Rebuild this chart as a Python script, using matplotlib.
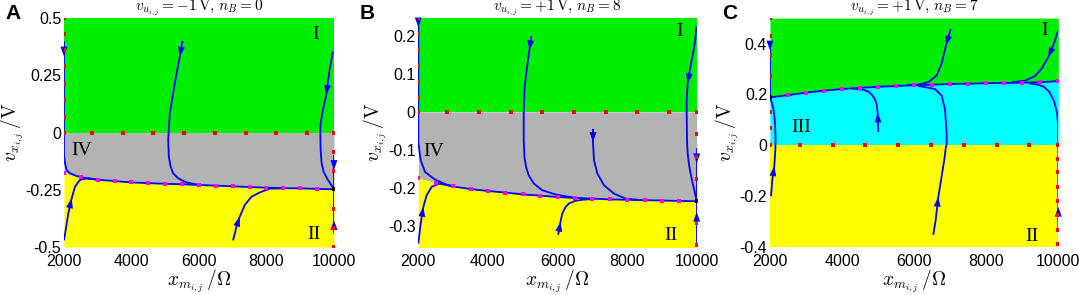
import matplotlib
matplotlib.use('Agg')
import matplotlib.pyplot as plt

plt.rcParams['mathtext.fontset'] = 'cm'
plt.rcParams['font.family'] = ['Liberation Sans', 'DejaVu Sans']
plt.rcParams['axes.unicode_minus'] = False

GREEN = '#00ee00'
GRAY = '#b3b3b3'
YELLOW = '#ffff00'
CYAN = '#00ffff'
BLUE = '#0000ff'

# ---- shared x grid of the region boundary (every 500 ohm)
bound_x = [2000, 2500, 3000, 3500, 4000, 4500, 5000, 5500, 6000,
           6500, 7000, 7500, 8000, 8500, 9000, 9500, 10000]
zero_dots_x = [2000, 2830, 3740, 4650, 5550, 6470, 7380, 8290, 9200, 10000]

# ---- panel A: v_u = -1 V, n_B = 0
a_bound_y = [-0.178, -0.196, -0.206, -0.212, -0.218, -0.221, -0.224, -0.226, -0.229,
             -0.232, -0.235, -0.238, -0.241, -0.243, -0.244, -0.246, -0.248]
a_left_dots = [0.5, 0.43, 0.36, 0.29, 0.21, 0.14, 0.07]
a_right_dots = [-0.083, -0.167, -0.333, -0.417, -0.5]
a_t1_x = [2000, 2000, 2000, 2000, 2030, 2079, 2178, 2375, 2671, 3000]
a_t1_y = [0.40, 0.36, 0.333, -0.10, -0.134, -0.164, -0.178, -0.19, -0.2, -0.206]
a_t2_x = [2000, 2128, 2227, 2326, 2473, 2671, 3000]
a_t2_y = [-0.471, -0.354, -0.288, -0.237, -0.207, -0.2, -0.206]
a_t3_x = [5512, 5432, 5285, 5186, 5137, 5088, 5107, 5157, 5235, 5383, 5630, 6000]
a_t3_y = [0.40, 0.332, 0.216, 0.128, 0.085, -0.032, -0.105, -0.148, -0.178, -0.2, -0.218, -0.229]
a_t4_x = [9970, 9871, 9773, 9674, 9605, 9596, 9605, 9635, 9694, 9793, 9921, 10000]
a_t4_y = [0.354, 0.274, 0.165, 0.099, 0.041, 0.0, -0.076, -0.134, -0.171, -0.2, -0.229, -0.248]
a_t5_x = [10000, 10000, 10000]
a_t5_y = [-0.098, -0.163, -0.248]
a_t6_x = [10000, 10000, 10000]
a_t6_y = [-0.44, -0.383, -0.248]
a_t7_x = [7011, 7110, 7208, 7356, 7553, 7800, 8096, 8491]
a_t7_y = [-0.471, -0.412, -0.368, -0.317, -0.281, -0.262, -0.245, -0.244]

# ---- panel B: v_u = +1 V, n_B = 8
b_bound_y = [-0.174, -0.186, -0.196, -0.203, -0.208, -0.212, -0.217, -0.220, -0.224,
             -0.226, -0.228, -0.230, -0.231, -0.232, -0.233, -0.234, -0.235]
b_left_dots = [0.245, 0.204, 0.162, 0.12, 0.077, 0.035]
b_right_dots = [-0.059, -0.118, -0.177, -0.293, -0.35]
b_t1_x = [2000, 2000, 2000, 2000, 2067, 2192, 2481, 2769, 3000]
b_t1_y = [0.245, 0.222, 0.0, -0.08, -0.127, -0.158, -0.178, -0.19, -0.196]
b_t2_x = [2000, 2067, 2144, 2240, 2385, 2625, 3000]
b_t2_y = [-0.346, -0.294, -0.25, -0.219, -0.197, -0.188, -0.196]
b_t3_x = [5250, 5192, 5125, 5058, 5029, 5029, 5048, 5096, 5173, 5317, 5558, 5942, 6500]
b_t3_y = [0.199, 0.162, 0.118, 0.066, 0.0, -0.074, -0.118, -0.145, -0.167, -0.188, -0.206, -0.217, -0.226]
b_t4_x = [7019, 7019, 7048, 7144, 7336, 7625, 7961, 8300]
b_t4_y = [-0.045, -0.079, -0.127, -0.162, -0.193, -0.215, -0.228, -0.231]
b_t5_x = [10000, 9932, 9817, 9740, 9711, 9711, 9721, 9740, 9788, 9865, 9932, 10000]
b_t5_y = [0.224, 0.171, 0.118, 0.075, 0.031, 0.0, -0.074, -0.11, -0.145, -0.18, -0.206, -0.235]
b_t6_x = [10000, 10000, 10000]
b_t6_y = [-0.096, -0.135, -0.235]
b_t7_x = [10000, 10000, 10000]
b_t7_y = [-0.345, -0.263, -0.235]
b_t8_x = [6019, 6086, 6134, 6230, 6327, 6500, 6712, 7000]
b_t8_y = [-0.323, -0.289, -0.268, -0.25, -0.241, -0.234, -0.231, -0.229]

# ---- panel C: v_u = +1 V, n_B = 7
c_bound_y = [0.188, 0.197, 0.207, 0.215, 0.221, 0.226, 0.230, 0.233, 0.236,
             0.238, 0.241, 0.242, 0.244, 0.245, 0.246, 0.248, 0.252]
c_left_dots = [0.5, 0.43, 0.354, 0.274, 0.13, 0.069]
c_right_dots = [-0.054, -0.107, -0.165, -0.218, -0.275, -0.334, -0.39]
c_t1_x = [2000, 2000, 2000]
c_t1_y = [0.407, 0.373, 0.188]
c_t2_x = [2028, 2065, 2120, 2150, 2155, 2140, 2100, 2050, 2000]
c_t2_y = [-0.2, -0.136, -0.083, -0.017, 0.03, 0.09, 0.14, 0.168, 0.188]
c_t3_x = [5006, 4987, 4960, 4913, 4820, 4729, 4600, 4300]
c_t3_y = [0.052, 0.128, 0.16, 0.181, 0.2, 0.211, 0.218, 0.222]
c_t4_x = [7013, 6884, 6763, 6625, 6393, 6116, 5800]
c_t4_y = [0.457, 0.393, 0.321, 0.274, 0.248, 0.238, 0.236]
c_t5_x = [6532, 6597, 6671, 6763, 6837, 6884, 6902, 6902, 6856, 6763, 6578, 6100]
c_t5_y = [-0.352, -0.295, -0.203, -0.123, -0.057, -0.004, 0.0, 0.049, 0.142, 0.195, 0.221, 0.234]
c_t6_x = [10000, 9862, 9723, 9538, 9353, 9075, 8705]
c_t6_y = [0.453, 0.393, 0.347, 0.301, 0.272, 0.254, 0.248]
c_t7_x = [10000, 10000, 10000, 9990, 9960, 9880, 9750, 9600, 9445, 9200]
c_t7_y = [-0.335, -0.242, 0.0, 0.09, 0.13, 0.175, 0.21, 0.23, 0.238, 0.243]


def draw_traj(ax, xs, ys, arrow_at):
    ax.plot(xs, ys, color=BLUE, lw=1.3, zorder=4, solid_capstyle='butt')
    i = arrow_at
    ax.annotate('', xy=(xs[i], ys[i]), xytext=(xs[i - 1], ys[i - 1]),
                arrowprops=dict(arrowstyle='-|>,head_length=0.7,head_width=0.25',
                                color=BLUE, lw=0, shrinkA=0, shrinkB=0,
                                mutation_scale=10), zorder=5)


def dots(ax, xs, ys, color):
    ax.plot(xs, ys, ls='none', marker='s', ms=2.2, mew=0, color=color, zorder=6)


def setup(ax, ylim, yticks, yticklabels, title):
    ax.set_xlim(2000, 10000)
    ax.set_ylim(*ylim)
    ax.set_xticks([2000, 4000, 6000, 8000, 10000])
    ax.set_yticks(yticks)
    ax.set_yticklabels(yticklabels)
    ax.tick_params(length=0, labelsize=11.5)
    ax.tick_params(axis='x', pad=5)
    ax.tick_params(axis='y', pad=2)
    for s in ax.spines.values():
        s.set_visible(False)
    ax.set_title(title, fontsize=11, pad=3)
    ax.set_xlabel(r'$x_{m_{i,j}}\,/\Omega$', fontsize=14, labelpad=-1.5)
    ax.set_ylabel(r'$v_{x_{i,j}}\,/\mathrm{V}$', fontsize=14, labelpad=-1)


def roman(ax, x, y, s):
    ax.text(x, y, s, family='Liberation Serif', fontsize=14, ha='center', va='center', zorder=7)


fig = plt.figure(figsize=(10.79, 2.95), dpi=100)
axA = fig.add_axes([0.0593, 0.1627, 0.2502, 0.776])
axB = fig.add_axes([0.3877, 0.1627, 0.2580, 0.776])
axC = fig.add_axes([0.7136, 0.1627, 0.2672, 0.776])

# panel A
ax = axA
ax.fill_between(bound_x, 0, 0.5, color=GREEN, lw=0)
ax.fill_between(bound_x, a_bound_y, 0, color=GRAY, lw=0)
ax.fill_between(bound_x, -0.5, a_bound_y, color=YELLOW, lw=0)
ax.plot(bound_x[1:], a_bound_y[1:], color=BLUE, lw=1.3, zorder=4)
draw_traj(ax, a_t1_x, a_t1_y, 2)
draw_traj(ax, a_t2_x, a_t2_y, 2)
draw_traj(ax, a_t3_x, a_t3_y, 1)
draw_traj(ax, a_t4_x, a_t4_y, 2)
draw_traj(ax, a_t5_x, a_t5_y, 1)
draw_traj(ax, a_t6_x, a_t6_y, 1)
draw_traj(ax, a_t7_x, a_t7_y, 2)
dots(ax, zero_dots_x, [0] * len(zero_dots_x), 'red')
dots(ax, [2000] * len(a_left_dots), a_left_dots, 'red')
dots(ax, [10000] * len(a_right_dots), a_right_dots, 'red')
dots(ax, bound_x[:-1], a_bound_y[:-1], 'magenta')
dots(ax, [10000], [a_bound_y[-1]], 'black')
roman(ax, 9450, 0.43, 'I')
roman(ax, 9400, -0.445, 'II')
roman(ax, 2520, -0.08, 'IV')
setup(ax, (-0.5, 0.5), [-0.5, -0.25, 0, 0.25, 0.5],
      ['-0.5', '-0.25', '0', '0.25', '0.5'],
      r'$v_{u_{i,j}}=-1\,\mathrm{V},\,n_B=0$')

# panel B
ax = axB
ax.fill_between(bound_x, 0, 0.3, color=GREEN, lw=0)
ax.fill_between(bound_x, b_bound_y, 0, color=GRAY, lw=0)
ax.fill_between(bound_x, -0.4, b_bound_y, color=YELLOW, lw=0)
ax.plot(bound_x[1:], b_bound_y[1:], color=BLUE, lw=1.3, zorder=4)
draw_traj(ax, b_t1_x, b_t1_y, 1)
draw_traj(ax, b_t2_x, b_t2_y, 2)
draw_traj(ax, b_t3_x, b_t3_y, 1)
draw_traj(ax, b_t4_x, b_t4_y, 1)
draw_traj(ax, b_t5_x, b_t5_y, 3)
draw_traj(ax, b_t6_x, b_t6_y, 1)
draw_traj(ax, b_t7_x, b_t7_y, 1)
draw_traj(ax, b_t8_x, b_t8_y, 1)
dots(ax, zero_dots_x, [0] * len(zero_dots_x), 'red')
dots(ax, [2000] * len(b_left_dots), b_left_dots, 'red')
dots(ax, [10000] * len(b_right_dots), b_right_dots, 'red')
dots(ax, bound_x[:-1], b_bound_y[:-1], 'magenta')
dots(ax, [10000], [b_bound_y[-1]], 'black')
roman(ax, 9500, 0.21, 'I')
roman(ax, 9260, -0.326, 'II')
roman(ax, 2430, -0.105, 'IV')
setup(ax, (-0.355, 0.246), [-0.3, -0.2, -0.1, 0, 0.1, 0.2],
      ['-0.3', '-0.2', '-0.1', '0', '0.1', '0.2'],
      r'$v_{u_{i,j}}=+1\,\mathrm{V},\,n_B=8$')

# panel C
ax = axC
ax.fill_between(bound_x, c_bound_y, 0.5, color=GREEN, lw=0)
ax.fill_between(bound_x, 0, c_bound_y, color=CYAN, lw=0)
ax.fill_between(bound_x, -0.4, 0, color=YELLOW, lw=0)
ax.plot(bound_x, c_bound_y, color=BLUE, lw=1.3, zorder=4)
draw_traj(ax, c_t1_x, c_t1_y, 1)
draw_traj(ax, c_t2_x, c_t2_y, 2)
draw_traj(ax, c_t3_x, c_t3_y, 1)
draw_traj(ax, c_t4_x, c_t4_y, 1)
draw_traj(ax, c_t5_x, c_t5_y, 2)
draw_traj(ax, c_t6_x, c_t6_y, 2)
draw_traj(ax, c_t7_x, c_t7_y, 1)
dots(ax, zero_dots_x, [0] * len(zero_dots_x), 'red')
dots(ax, [2000] * len(c_left_dots), c_left_dots, 'red')
dots(ax, [10000] * len(c_right_dots), c_right_dots, 'red')
dots(ax, bound_x[1:], c_bound_y[1:], 'magenta')
dots(ax, [2000], [c_bound_y[0]], 'black')
roman(ax, 9630, 0.45, 'I')
roman(ax, 9260, -0.36, 'II')
roman(ax, 2880, 0.07, 'III')
setup(ax, (-0.4, 0.5), [-0.4, -0.2, 0, 0.2, 0.4],
      ['-0.4', '-0.2', '0', '0.2', '0.4'],
      r'$v_{u_{i,j}}=+1\,\mathrm{V},\,n_B=7$')

for lbl, xpos in [('A', 0.012), ('B', 0.340), ('C', 0.676)]:
    fig.text(xpos, 0.955, lbl, fontsize=15, fontweight='bold', ha='center', va='center')

fig.savefig('out.png', dpi=100)
